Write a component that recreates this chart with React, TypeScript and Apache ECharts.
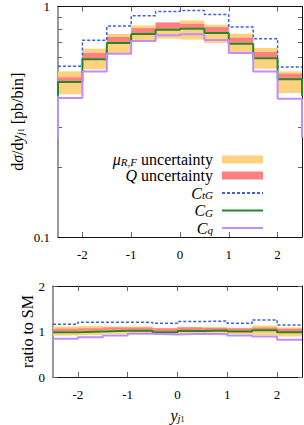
import React, { useEffect, useRef } from "react";
import * as echarts from "echarts";

const binEdges = [-2.5, -2, -1.5, -1, -0.5, 0, 0.5, 1, 1.5, 2, 2.5];
const xTicks = [-2, -1, 0, 1, 2];
const mainLabelValues = [0.1, 1];
const mainMinorTicks = [0.2, 0.3, 0.4, 0.5, 0.6, 0.7, 0.8, 0.9];
const ratioLabelValues = [0, 1, 2];

// top panel: dσ/dy [pb/bin]
const muLow = [0.416, 0.534, 0.628, 0.703, 0.725, 0.719, 0.694, 0.631, 0.537, 0.421];
const muHigh = [0.523, 0.656, 0.76, 0.827, 0.847, 0.87, 0.833, 0.762, 0.66, 0.523];
const qLow = [0.47, 0.594, 0.701, 0.762, 0.795, 0.8, 0.774, 0.697, 0.603, 0.483];
const qHigh = [0.493, 0.628, 0.737, 0.806, 0.853, 0.841, 0.814, 0.732, 0.634, 0.511];
const cTG = [0.551, 0.713, 0.822, 0.911, 0.951, 0.961, 0.923, 0.814, 0.725, 0.546];
const cG = [0.47, 0.59, 0.694, 0.759, 0.793, 0.8, 0.767, 0.689, 0.597, 0.483];
const cQ = [0.401, 0.523, 0.624, 0.708, 0.751, 0.757, 0.715, 0.628, 0.523, 0.398];
const outerG = [0.41];
const outerQ = [0.27];

// bottom panel: ratio to SM
const rMuLow = [0.91, 0.92, 0.95, 0.96, 0.93, 0.95, 0.95, 0.94, 0.92, 0.89];
const rMuHigh = [1.11, 1.12, 1.11, 1.11, 1.07, 1.1, 1.1, 1.08, 1.13, 1.09];
const rQLow = [1.01, 1.02, 1.04, 1.04, 1.0, 1.02, 1.02, 1.01, 1.04, 0.99];
const rQHigh = [1.06, 1.07, 1.09, 1.09, 1.07, 1.09, 1.08, 1.07, 1.09, 1.06];
const rTG = [1.16, 1.205, 1.205, 1.2, 1.18, 1.22, 1.23, 1.18, 1.255, 1.145];
const rG = [0.985, 1.0, 1.014, 1.014, 0.985, 1.01, 1.02, 1.0, 1.025, 0.985];
const rQ = [0.84, 0.875, 0.91, 0.95, 0.935, 0.95, 0.94, 0.91, 0.89, 0.82];

const ORANGE = "#ffd280";
const RED = "#ff8080";
const BLUE = "#3b63d9";
const GREEN = "#23892a";
const PURPLE = "#c08cff";
const SERIF = "'Liberation Serif', 'DejaVu Serif', serif";

// legend icons: solid bar and dashed bar (41 x 2)
const solidIcon = "path://M0,0h41v2h-41z";
let dashed = "path://";
for (let x = 0; x < 41; x += 5) dashed += `M${x},0h${Math.min(3, 41 - x)}v2h-${Math.min(3, 41 - x)}z`;
const dashedIcon = dashed;

function steps(vals: number[], outer?: number[]) {
  const pts: number[][] = [];
  if (outer) pts.push([binEdges[0], outer[0]]);
  vals.forEach((v, i) => pts.push([binEdges[i], v]));
  pts.push([binEdges[vals.length], vals[vals.length - 1]]);
  if (outer) pts.push([binEdges[vals.length], outer[0]]);
  return pts;
}

function bands(lo: number[], hi: number[]) {
  return lo.map((l, i) => [binEdges[i], binEdges[i + 1], l, hi[i]]);
}

function bandSeries(name: string, color: string, data: number[][], idx: number) {
  return {
    type: "custom",
    name,
    xAxisIndex: idx * 2,
    yAxisIndex: idx * 2,
    itemStyle: { color },
    encode: { x: [0, 1], y: [2, 3] },
    data,
    renderItem: (params: any, api: any) => {
      const p0 = api.coord([api.value(0), api.value(3)]);
      const p1 = api.coord([api.value(1), api.value(2)]);
      return {
        type: "rect",
        shape: { x: p0[0], y: p0[1], width: p1[0] - p0[0], height: p1[1] - p0[1] },
        style: { fill: color },
      };
    },
  };
}

function lineSeries(name: string, color: string, data: number[][], idx: number, isDashed = false) {
  return {
    type: "line",
    name,
    xAxisIndex: idx * 2,
    yAxisIndex: idx * 2,
    step: "end",
    showSymbol: false,
    symbol: "none",
    clip: true,
    itemStyle: { color },
    lineStyle: { color, width: isDashed ? 1.5 : 2, type: isDashed ? [3, 2] : "solid" },
    data,
  };
}

const richBase = {
  u: { fontFamily: SERIF, fontSize: 16, color: "#000" },
  i: { fontFamily: SERIF, fontSize: 16, fontStyle: "italic", color: "#000" },
  s: { fontFamily: SERIF, fontSize: 11, fontStyle: "italic", color: "#000", verticalAlign: "bottom", lineHeight: 10, padding: [6, 0, 0, 0] },
  s1: { fontFamily: SERIF, fontSize: 8, color: "#000", verticalAlign: "bottom", lineHeight: 8, padding: [8, 0, 0, 0] },
};

function xAxes(gridIndex: number, name?: string) {
  const common = {
    type: "value",
    gridIndex,
    min: -2.5,
    max: 2.5,
    splitLine: { show: false },
    axisTick: { show: true, inside: true, length: 5, customValues: xTicks, lineStyle: { color: "#666" } },
  };
  return [
    {
      ...common,
      position: "bottom",
      axisLine: { show: true, onZero: false, lineStyle: { color: "#111", width: 1 } },
      axisLabel: {
        show: true,
        customValues: xTicks,
        fontFamily: SERIF,
        fontSize: 13,
        color: "#000",
        margin: 11,
        formatter: (v: number) => String(v),
      },
      name,
      nameLocation: "middle",
      nameGap: 30,
      nameMoveOverlap: false,
      nameTextStyle: { rich: richBase },
    },
    {
      ...common,
      position: "top",
      axisLine: { show: true, onZero: false, lineStyle: { color: "#111", width: 1 } },
      axisLabel: { show: false },
    },
  ];
}

export default function App() {
  const ref = useRef<HTMLDivElement>(null);
  useEffect(() => {
    if (!ref.current) return;
    const chart = echarts.init(ref.current, undefined, { renderer: "svg" });
    const option: any = {
      animation: false,
      backgroundColor: "#fff",
      grid: [
        { left: 53, right: 2, top: 6, height: 231 },
        { left: 53, right: 2, top: 286, height: 91 },
      ],
      xAxis: [...xAxes(0), ...xAxes(1, "{i|y}{s|j}{s1|1}")],
      yAxis: [
        {
          type: "log",
          logBase: 10,
          gridIndex: 0,
          min: 0.1,
          max: 1,
          position: "left",
          splitLine: { show: false },
          axisLine: { show: true, onZero: false, lineStyle: { color: "#777", width: 1.5 } },
          axisTick: { show: true, inside: true, length: 4, customValues: mainMinorTicks, lineStyle: { color: "#666" } },
          axisLabel: { customValues: mainLabelValues, fontFamily: SERIF, fontSize: 13, color: "#000", margin: 8, formatter: (v: number) => String(v) },
          name: "{u|d}{i|σ}{u|/d}{i|y}{s|j}{s1|1}{u| [pb/bin]}",
          nameLocation: "middle",
          nameGap: 33,
          nameMoveOverlap: false,
          nameTextStyle: { rich: richBase },
        },
        {
          type: "log",
          logBase: 10,
          gridIndex: 0,
          min: 0.1,
          max: 1,
          position: "right",
          splitLine: { show: false },
          axisLine: { show: true, onZero: false, lineStyle: { color: "#111", width: 1 } },
          axisTick: { show: true, inside: true, length: 4, customValues: mainMinorTicks, lineStyle: { color: "#666" } },
          axisLabel: { show: false },
        },
        {
          type: "value",
          gridIndex: 1,
          min: 0,
          max: 2,
          interval: 1,
          position: "left",
          splitLine: { show: false },
          axisLine: { show: true, onZero: false, lineStyle: { color: "#777", width: 1.5 } },
          axisTick: { show: true, inside: true, length: 4, lineStyle: { color: "#666" } },
          axisLabel: { customValues: ratioLabelValues, fontFamily: SERIF, fontSize: 13, color: "#000", margin: 8 },
          name: "{u|ratio to SM}",
          nameLocation: "middle",
          nameGap: 18,
          nameMoveOverlap: false,
          nameTextStyle: { rich: richBase },
        },
        {
          type: "value",
          gridIndex: 1,
          min: 0,
          max: 2,
          interval: 1,
          position: "right",
          splitLine: { show: false },
          axisLine: { show: true, onZero: false, lineStyle: { color: "#111", width: 1 } },
          axisTick: { show: true, inside: true, length: 4, lineStyle: { color: "#666" } },
          axisLabel: { show: false },
        },
      ],
      legend: {
        orient: "vertical",
        align: "right",
        right: 36,
        top: 145,
        itemWidth: 41,
        itemHeight: 8,
        itemGap: 0,
        selectedMode: false,
        data: [
          { name: "mu", icon: "rect" },
          { name: "Q", icon: "rect" },
          { name: "CtG", icon: dashedIcon },
          { name: "CG", icon: solidIcon },
          { name: "Cq", icon: solidIcon },
        ],
        formatter: (name: string) => {
          switch (name) {
            case "mu":
              return "{i|μ}{s|R,F}{u| uncertainty}";
            case "Q":
              return "{i|Q}{u| uncertainty}";
            case "CtG":
              return "{i|C}{s|tG}";
            case "CG":
              return "{i|C}{s|G}";
            default:
              return "{i|C}{s|q}";
          }
        },
        textStyle: { lineHeight: 15, padding: [0, 4, 0, 0], rich: richBase },
      },
      series: [
        bandSeries("mu", ORANGE, bands(muLow, muHigh), 0),
        bandSeries("Q", RED, bands(qLow, qHigh), 0),
        lineSeries("CtG", BLUE, steps(cTG), 0, true),
        lineSeries("CG", GREEN, steps(cG, outerG), 0),
        lineSeries("Cq", PURPLE, steps(cQ, outerQ), 0),
        bandSeries("mu", ORANGE, bands(rMuLow, rMuHigh), 1),
        bandSeries("Q", RED, bands(rQLow, rQHigh), 1),
        lineSeries("CtG", BLUE, steps(rTG), 1, true),
        lineSeries("CG", GREEN, steps(rG), 1),
        lineSeries("Cq", PURPLE, steps(rQ), 1),
      ],
    };
    chart.setOption(option);
    return () => chart.dispose();
  }, []);
  return <div ref={ref} style={{ width: 304, height: 425, position: "absolute", left: 0, top: 0 }} />;
}
